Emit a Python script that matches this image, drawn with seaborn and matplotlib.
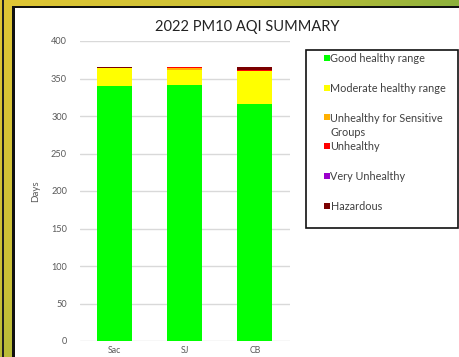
import numpy as np
import pandas as pd
import matplotlib
matplotlib.use("Agg")
import matplotlib.pyplot as plt
import seaborn as sns
from matplotlib.patches import Rectangle
from matplotlib.colors import LinearSegmentedColormap

sites = ["Sac", "SJ", "CB"]
categories = ["Good healthy range", "Moderate healthy range",
              "Unhealthy for Sensitive Groups", "Unhealthy",
              "Very Unhealthy", "Hazardous"]
good = [340, 342, 316]
moderate = [24, 20, 44]
usg = [0, 2, 0]
unhealthy = [0, 1, 2]
very_unhealthy = [0, 0, 0]
hazardous = [1, 0, 3]
yticks = [0, 50, 100, 150, 200, 250, 300, 350, 400]

colors = ["#00ff00", "#ffff00", "#ffb000", "#ff0000", "#9b00cc", "#7b0000"]

sns.set_theme(style="white")
plt.rcParams['font.family'] = ['Lato', 'DejaVu Sans']

W, H = 459, 357
fig = plt.figure(figsize=(W / 100, H / 100), dpi=100)

def fx(px):
    return px / W

def fy(py):
    return 1 - py / H

# ---- frame ----
bg = fig.add_axes([0, 0, 1, 1], zorder=0)
bg.set_xlim(0, W)
bg.set_ylim(H, 0)
bg.axis("off")
cmap = LinearSegmentedColormap.from_list("fr", ["#e0c634", "#c9c036", "#7fae3e", "#5f8f36"])
gx, gy = np.meshgrid(np.linspace(0, 1, 200), np.linspace(0, 1, 200))
bg.imshow(0.6 * gx + 0.4 * gy, cmap=cmap, extent=[0, W, H, 0], aspect="auto")
bg.add_patch(Rectangle((15, 8), W - 15, H - 8, facecolor="white", edgecolor="none"))
bg.add_patch(Rectangle((12, 6), 3, H - 6, facecolor="#111111", edgecolor="none"))
bg.add_patch(Rectangle((12, 6), W - 12, 2.2, facecolor="#111111", edgecolor="none"))
bg.add_patch(Rectangle((1.5, 0), 2.2, H, facecolor="#222222", edgecolor="none"))

# ---- chart ----
ax = fig.add_axes([fx(79.5), 16 / H, 210.5 / W, 300 / H], zorder=2)
ax.set_facecolor("none")

layers = [good, moderate, usg, unhealthy, very_unhealthy, hazardous]
cum = np.cumsum(np.array(layers), axis=0)
for i in range(len(layers) - 1, -1, -1):
    sns.barplot(x=sites, y=cum[i], color=colors[i], width=0.5, saturation=1,
                linewidth=0, ax=ax, zorder=3)

ax.set_ylim(0, 400)
ax.set_xlim(-0.5, 2.5)
ax.set_yticks(yticks)
ax.yaxis.grid(True, color="#d9d9d9", linewidth=1)
ax.set_axisbelow(True)
for s in ax.spines.values():
    s.set_visible(False)
ax.tick_params(axis="y", length=0, labelsize=6.6, labelcolor="#595959", pad=9)
ax.tick_params(axis="x", length=0, labelsize=6.3, labelcolor="#595959", pad=3.5)
ax.set_ylabel("Days", fontsize=7, color="#595959", labelpad=8)
ax.set_xlabel("")

fig.text(fx(247), fy(27), "2022 PM10 AQI SUMMARY", ha="center", va="center",
         fontsize=10.5, color="#222222")

# ---- legend ----
lg = fig.add_axes([0, 0, 1, 1], zorder=4)
lg.set_xlim(0, W)
lg.set_ylim(H, 0)
lg.axis("off")
lg.add_patch(Rectangle((306, 50), 152, 178, facecolor="white", edgecolor="#111111", linewidth=1.2))
rows = [(categories[0], [58]), (categories[1], [88]),
        ("Unhealthy for Sensitive\nGroups", [117, 131]), (categories[3], [146]),
        (categories[4], [176]), (categories[5], [206])]
for i, (lab, ys) in enumerate(rows):
    lg.add_patch(Rectangle((323.5, ys[0] - 3), 6, 6, facecolor=colors[i], edgecolor="none"))
    for j, line in enumerate(lab.split("\n")):
        lg.text(330.5, ys[j], line, ha="left", va="center_baseline", fontsize=7.8, color="#404040")

fig.savefig("out.png", dpi=100)
